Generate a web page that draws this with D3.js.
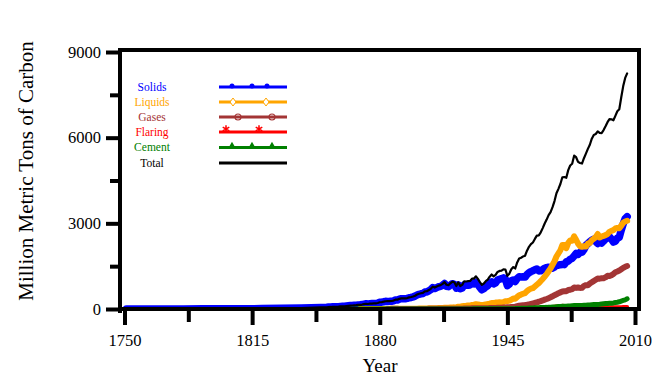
<!DOCTYPE html>
<html><head><meta charset="utf-8">
<script src="https://cdn.jsdelivr.net/npm/d3@7"></script>
<style>body{margin:0;background:#fff}svg{display:block}</style>
</head><body><svg id="c" width="665" height="380"></svg>
<script>
// ---- data (million metric tons of carbon) ----
const earlyYears  = [1751,1760,1770,1780,1790,1800,1810,1820,1830,1840];
const earlyValues = [3,3,3,4,5,8,10,14,24,33]; // all solids before 1850
const solidsStart = 1850;
const solids = [54,54,57,59,69,71,76,77,78,83,91,95,97,104,112,119,122,130,135,142,
146,155,172,183,173,186,189,192,194,207,233,240,253,268,267,268,271,284,314,315,
344,360,361,358,371,393,405,426,450,491,515,532,544,594,599,635,679,752,715,748,
778,792,833,892,797,781,838,887,867,730,840,710,737,846,833,833,841,898,879,938,
855,755,672,709,774,814,900,949,881,917,1014,1041,1062,1090,1043,817,874,991,1018,964,
1069,1129,1119,1126,1117,1207,1270,1309,1336,1375,1403,1335,1336,1383,1424,1448,1464,1429,1429,1472,
1533,1535,1553,1558,1554,1653,1676,1742,1776,1853,1946,1910,1983,1986,2081,2228,2290,2359,2413,2443,
2367,2292,2367,2312,2377,2450,2496,2529,2454,2344,2372,2480,2512,2763,2983,3164,3232];
const totalStart = 1850;
const total = [54,54,57,59,69,71,76,77,78,83,91,95,97,104,112,119,122,130,135,142,
147,156,173,184,174,188,191,194,196,210,236,243,256,272,275,277,281,295,327,327,
356,372,374,370,383,406,419,440,465,507,534,552,566,617,624,663,707,784,750,785,
819,836,879,943,850,838,901,955,936,806,932,803,845,970,963,975,983,1062,1065,1145,
1053,940,847,893,973,1027,1130,1209,1142,1192,1299,1334,1342,1391,1383,1160,1238,1392,1469,1419,
1630,1767,1795,1841,1865,2043,2177,2270,2330,2454,2569,2580,2686,2833,2995,3130,3288,3393,3566,3780,
4053,4208,4376,4614,4623,4596,4864,5026,5087,5369,5315,5152,5113,5094,5280,5439,5607,5752,5965,6097,
6127,6217,6164,6162,6266,6398,6542,6651,6643,6610,6765,6927,6996,7416,7807,8093,8250];
const liquidsStart = 1870;
const liquids = [1,1,1,1,1,2,2,2,2,3, 3,3,3,4,4,5,5,5,6,6, 8,8,9,9,9,10,11,11,12,13,
16,17,18,19,21,23,23,26,29,30, 33,36,38,42,44,47,52,56,57,64, 79,81,95,109,112,122,121,141,152,170,
160,150,142,150,162,173,186,211,212,224, 230,236,222,239,275,275,292,322,364,362,
423,479,504,533,557,625,679,714,731,789, 849,904,980,1052,1137,1219,1323,1423,1551,1673,
1839,1947,2057,2241,2245,2132,2314,2398,2392,2544, 2422,2289,2196,2176,2199,2186,2293,2306,2412,2459,
2517,2627,2506,2537,2562,2586,2624,2701,2738,2762, 2819,2838,2825,2920,3019,3064,3089];
const gasesStart = 1884;
const gases = [4,4,5,6,7,6, 4,4,4,3,3,3,3,3,3,3, 3,3,4,4,4,5,5,6,6,7, 8,8,8,9,9,10,11,12,12,12,
13,12,13,15,18,20,21,23,24,27, 28,26,25,25,28,30,33,37,37,38, 42,45,47,52,56,59,61,67,74,79,
97,115,124,131,138,150,164,178,192,214, 235,254,277,300,328,351,380,410,445,483,
516,554,582,610,621,624,663,674,697,755, 738,752,738,740,808,836,830,892,935,982,
1026,1069,1063,1076,1080,1109,1163,1153,1182,1228, 1287,1313,1345,1393,1441,1478,1505];
const flaringStart = 1950;
const flaring = [23,24,26,27,27,31,32,35,35,36, 39,42,44,47,51,55,60,66,73,80,
87,88,95,110,107,92,108,104,106,98, 89,80,75,67,64,58,57,52,53,57,
60,68,61,61,61,62,63,65,64,63, 61,59,62,64,66,67,68];
const cementLeadYears = [1860,1927];
const cementLead = [0,0];
const cementStart = 1928;
const cement = [10,10, 10,9,8,9,9,10,11,12,12,13, 13,12,11,10,9,9,11,12,13,14,
18,20,22,24,26,30,32,34,36,40, 43,45,49,51,55,57,61,65,68,72,
78,84,89,95,96,95,103,108,116,119, 120,121,121,125,128,131,137,143,152,156,
157,161,167,176,186,191,196,203,205,213, 226,237,252,276,298,320,356];

const seriesNames  = ["Solids","Liquids","Gases","Flaring","Cement","Total"];
const seriesColors = ["#0000ff","#ffa500","#a33535","#ff0000","#008000","#000000"];
const yMajor = [0,3000,6000,9000];
const yMinor = [1500,4500,7500];
const xMajor = [1750,1815,1880,1945,2010];
const xMinor = [1782.5,1847.5,1912.5,1977.5];

// ---- build ----
const pairs = (start, vals) => vals.map((v,i)=>[start+i, v]);
const early = earlyYears.map((yr,i)=>[yr, earlyValues[i]]);
const seriesData = [
  early.concat(pairs(solidsStart, solids)),
  pairs(liquidsStart, liquids),
  pairs(gasesStart, gases),
  pairs(flaringStart, flaring),
  cementLeadYears.map((yr,i)=>[yr, cementLead[i]]).concat(pairs(cementStart, cement)),
  early.concat(pairs(totalStart, total))
];
const widths = [7.5,6,6,4,5,2.2];

const svg = d3.select("#c");
const x = d3.scaleLinear().domain([1750,2010]).range([124.5,635]);
const y = d3.scaleLinear().domain([0,9000]).range([309,52]);
const serif = "'Liberation Serif','Times New Roman',serif";

svg.append("clipPath").attr("id","clip").append("rect")
  .attr("x",122).attr("y",52).attr("width",515).attr("height",259);

const line = d3.line().x(d=>x(d[0])).y(d=>y(d[1]));
const g = svg.append("g").attr("clip-path","url(#clip)");
seriesData.forEach((d,i)=>{
  g.append("path").datum(d).attr("d",line).attr("fill","none")
    .attr("stroke",seriesColors[i]).attr("stroke-width",widths[i])
    .attr("stroke-linejoin","round").attr("stroke-linecap","round");
});

// frame
svg.append("rect").attr("x",120).attr("y",50).attr("width",519).attr("height",259)
  .attr("fill","none").attr("stroke","#000").attr("stroke-width",4);

// y axis
const ya = svg.append("g").attr("transform","translate(120,0)")
  .call(d3.axisLeft(y).tickValues(yMajor).tickSize(14).tickPadding(5).tickFormat(d3.format("d")));
const ym = svg.append("g").attr("transform","translate(120,0)")
  .call(d3.axisLeft(y).tickValues(yMinor).tickSize(10).tickFormat(""));
// x axis
const xa = svg.append("g").attr("transform","translate(0,309)")
  .call(d3.axisBottom(x).tickValues(xMajor).tickSize(16).tickPadding(9).tickFormat(d3.format("d")));
const xm = svg.append("g").attr("transform","translate(0,309)")
  .call(d3.axisBottom(x).tickValues(xMinor).tickSize(13).tickFormat(""));
[ya,ym,xa,xm].forEach(a=>{
  a.select(".domain").remove();
  a.selectAll(".tick line").attr("stroke","#000").attr("stroke-width",4);
  a.selectAll("text").attr("font-family",serif).attr("font-size",16.5).attr("fill","#000");
});
svg.append("line").attr("x1",120).attr("x2",120).attr("y1",48).attr("y2",313)
  .attr("stroke","#000").attr("stroke-width",4);

// titles
svg.append("text").attr("x",380).attr("y",372).attr("text-anchor","middle")
  .attr("font-family",serif).attr("font-size",19).text("Year");
svg.append("text").attr("transform","translate(33,171) rotate(-90)").attr("text-anchor","middle")
  .attr("font-family",serif).attr("font-size",21).text("Million Metric Tons of Carbon");

// legend
const rowsY = [87,102,117,132,147.5,163];
const lg = svg.append("g");
seriesNames.forEach((n,i)=>{
  const yy = rowsY[i];
  lg.append("text").attr("x",152).attr("y",yy+3.5).attr("text-anchor","middle")
    .attr("font-family",serif).attr("font-size",11.5).attr("fill",seriesColors[i]).text(n);
  lg.append("line").attr("x1",219).attr("x2",287).attr("y1",yy).attr("y2",yy)
    .attr("stroke",seriesColors[i]).attr("stroke-width",3);
});
const c = seriesColors;
[232,252,267].forEach(mx=>lg.append("circle").attr("cx",mx).attr("cy",rowsY[0]-1).attr("r",2.5).attr("fill",c[0]));
[233,266].forEach(mx=>lg.append("path").attr("d",`M${mx},${rowsY[1]-4}L${mx+3},${rowsY[1]}L${mx},${rowsY[1]+4}L${mx-3},${rowsY[1]}Z`)
  .attr("fill","#fff").attr("stroke",c[1]).attr("stroke-width",1));
[238,272].forEach(mx=>lg.append("circle").attr("cx",mx).attr("cy",rowsY[2]).attr("r",3).attr("fill","none").attr("stroke",c[2]).attr("stroke-width",1.2));
[226,259].forEach(mx=>lg.append("path").attr("d",d3.symbol(d3.symbolAsterisk,40)())
  .attr("transform",`translate(${mx},${rowsY[3]-3})`).attr("stroke",c[3]).attr("stroke-width",1.5).attr("fill","none"));
[232,252,272].forEach(mx=>lg.append("path").attr("d",d3.symbol(d3.symbolTriangle,28)())
  .attr("transform",`translate(${mx},${rowsY[4]-1})`).attr("fill",c[4]));
</script></body></html>
